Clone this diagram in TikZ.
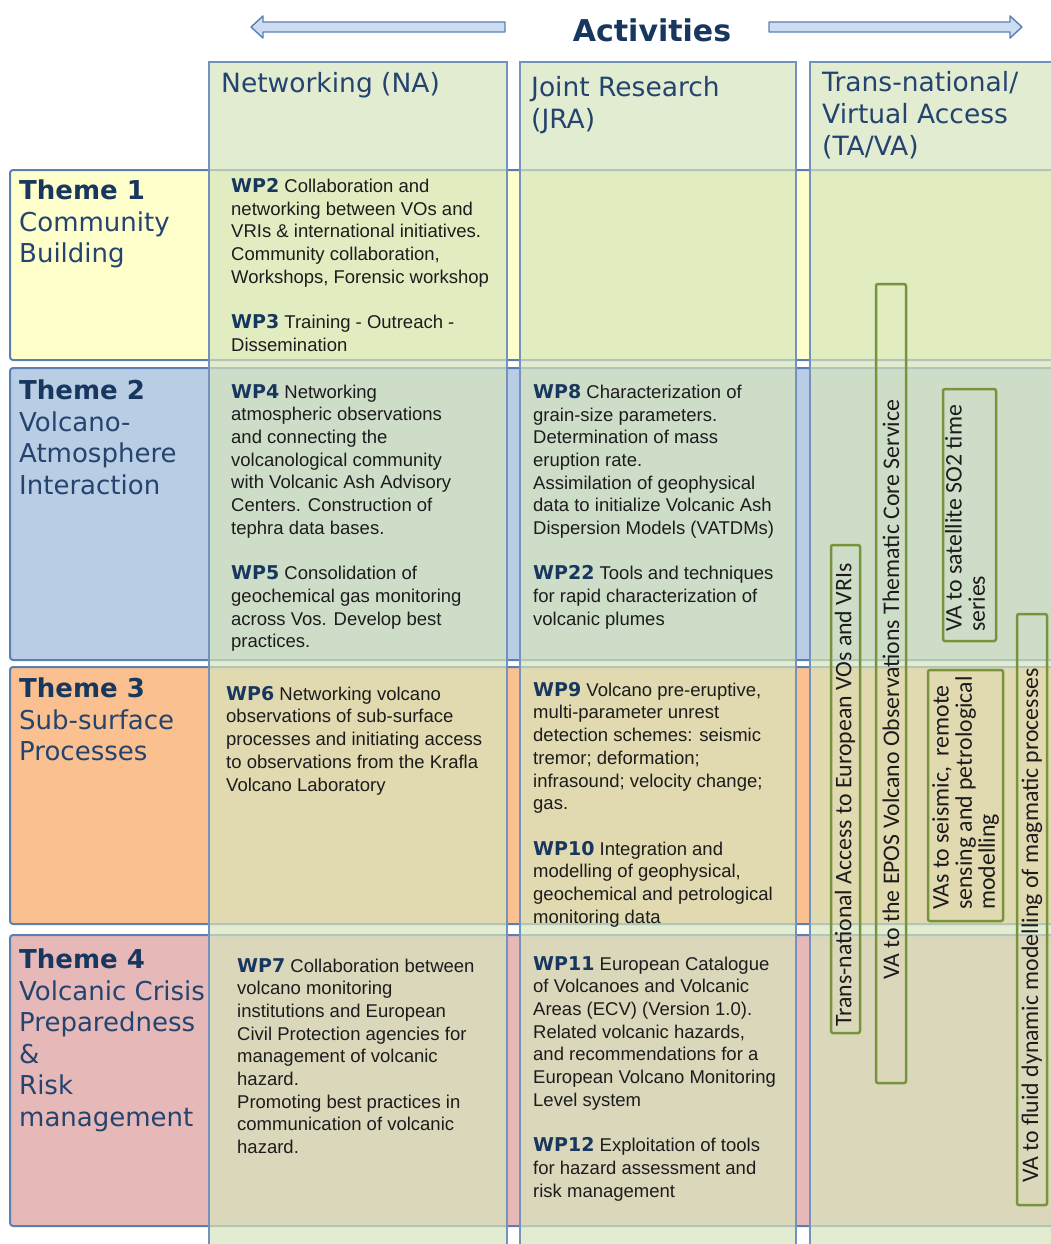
\documentclass[tikz,border=0pt]{standalone}
\usepackage{fontspec}
\setmainfont{Liberation Sans}
\newfontfamily\dvs{DejaVu Sans}
\newfontfamily\carl{Carlito}
\definecolor{tone}{HTML}{FFFFCC}
\definecolor{ttwo}{HTML}{B9CDE5}
\definecolor{tthree}{HTML}{FAC090}
\definecolor{tfour}{HTML}{E6B9B8}
\definecolor{colfill}{HTML}{D7E4BD}
\definecolor{bordblue}{HTML}{5A7FB2}
\definecolor{navy}{HTML}{17375E}
\definecolor{slate}{HTML}{24446F}
\definecolor{bodytext}{HTML}{1C1C1C}
\definecolor{gline}{HTML}{77933C}
\definecolor{arrfill}{HTML}{CCDCF1}
\newcommand{\wpl}[1]{{\dvs\bfseries\fontsize{19}{22.7}\selectfont\color{navy}#1}}
\newcommand{\thl}[1]{{\bfseries\color{navy}#1}}
\begin{document}
\begin{tikzpicture}[x=1pt,y=-1pt,
  themebox/.style={draw=bordblue, line width=2pt, rounded corners=3pt},
  colbox/.style={draw=bordblue!85, line width=1.8pt, fill=colfill, fill opacity=0.7},
  gbox/.style={draw=gline, line width=2.5pt, rounded corners=2pt},
  hdr/.style={anchor=north west, inner sep=0pt, align=left, text=slate, font=\dvs\fontsize{26.5}{32}\selectfont},
  thm/.style={anchor=north west, inner sep=0pt, align=left, text=slate, font=\dvs\fontsize{26}{31.5}\selectfont},
  wp/.style={anchor=north west, inner sep=0pt, align=left, text=bodytext, font=\fontsize{18.5}{22.7}\selectfont},
  vtext/.style={rotate=90, inner sep=0pt, align=left, text=bodytext, font=\carl\fontsize{23.8}{23.2}\selectfont},
  arrshape/.style={draw=bordblue, line width=1.4pt, fill=arrfill, line join=round}]
\useasboundingbox (0,0) rectangle (1051,1244);
\clip (0,0) rectangle (1051,1244);
\fill[white] (0,0) rectangle (1051,1244);

% top arrows and title
\draw[arrshape] (251,27) -- (263,16) -- (263,22) -- (505,22) -- (505,32) -- (263,32) -- (263,38) -- cycle;
\draw[arrshape] (1022,27) -- (1010,16) -- (1010,22) -- (769,22) -- (769,32) -- (1010,32) -- (1010,38) -- cycle;
\node[text=navy, font=\dvs\bfseries\fontsize{30}{36}\selectfont] (act) at (652,30) {Activities};

% theme rows
\draw[themebox, fill=tone]   (10,170) rectangle (1080,360);
\draw[themebox, fill=ttwo]   (10,368) rectangle (1080,660);
\draw[themebox, fill=tthree] (10,667) rectangle (1080,924);
\draw[themebox, fill=tfour]  (10,935) rectangle (1080,1226);

% activity columns
\draw[colbox] (209,62) rectangle (507,1270);
\draw[colbox] (520,62) rectangle (796,1270);
\draw[colbox] (810,62) rectangle (1080,1270);

% column headers
\node[hdr] (hna) at (221,72) {Networking (NA)};
\node[hdr] (hjra) at (531,76) {Joint Research\\(JRA)};
\node[hdr] (hta) at (822,71) {Trans-national/\\Virtual Access\\(TA/VA)};

% theme labels
\node[thm] (th1) at (19,180) {\thl{Theme 1}\\Community\\Building};
\node[thm] (th2) at (19,380) {\thl{Theme 2}\\Volcano-\\Atmosphere\\Interaction};
\node[thm] (th3) at (19,678) {\thl{Theme 3}\\Sub-surface\\Processes};
\node[thm] (th4) at (19,949) {\thl{Theme 4}\\Volcanic Crisis\\Preparedness\\\&\\Risk\\management};

% NA texts
\node[wp] (wp2) at (231,178) {\wpl{WP2} Collaboration and\\networking between VOs and\\VRIs \& international initiatives.\\Community collaboration,\\Workshops, Forensic workshop\\[22.7pt]\wpl{WP3} Training - Outreach -\\Dissemination};
\node[wp] (wp4) at (231,384) {\wpl{WP4} Networking\\atmospheric observations\\and connecting the\\volcanological community\\with Volcanic Ash Advisory\\Centers. Construction of\\tephra data bases.\\[22.7pt]\wpl{WP5} Consolidation of\\geochemical gas monitoring\\across Vos. Develop best\\practices.};
\node[wp] (wp6) at (226,686) {\wpl{WP6} Networking volcano\\observations of sub-surface\\processes and initiating access\\to observations from the Krafla\\Volcano Laboratory};
\node[wp] (wp7) at (237,958) {\wpl{WP7} Collaboration between\\volcano monitoring\\institutions and European\\Civil Protection agencies for\\management of volcanic\\hazard.\\Promoting best practices in\\communication of volcanic\\hazard.};

% JRA texts
\node[wp] (wp8) at (533,384) {\wpl{WP8} Characterization of\\grain-size parameters.\\Determination of mass\\eruption rate.\\Assimilation of geophysical\\data to initialize Volcanic Ash\\Dispersion Models (VATDMs)\\[22.7pt]\wpl{WP22} Tools and techniques\\for rapid characterization of\\volcanic plumes};
\node[wp] (wp9) at (533,682) {\wpl{WP9} Volcano pre-eruptive,\\multi-parameter unrest\\detection schemes: seismic\\tremor; deformation;\\infrasound; velocity change;\\gas.\\[22.7pt]\wpl{WP10} Integration and\\modelling of geophysical,\\geochemical and petrological\\monitoring data};
\node[wp] (wp11) at (533,956) {\wpl{WP11} European Catalogue\\of Volcanoes and Volcanic\\Areas (ECV) (Version 1.0).\\Related volcanic hazards,\\and recommendations for a\\European Volcano Monitoring\\Level system\\[22.7pt]\wpl{WP12} Exploitation of tools\\for hazard assessment and\\risk management};

% TA/VA boxes
\draw[gbox] (831,545) rectangle (860,1033);
\draw[gbox] (876,284) rectangle (906,1083);
\draw[gbox] (943,389) rectangle (996,641);
\draw[gbox] (928,670) rectangle (1003,921);
\draw[gbox] (1017,614) rectangle (1047,1205);
\node[vtext, anchor=west] (va1) at (845,1027) {Trans-national Access to European VOs and VRIs};
\node[vtext, anchor=west] (va2) at (891,980) {VA to the EPOS Volcano Observations Thematic Core Service};
\node[vtext, anchor=north west] (va3) at (945,632) {VA to satellite SO2 time\\series};
\node[vtext, anchor=north west] (va4) at (932,910) {VAs to seismic,~ remote\\sensing and petrological\\modelling};
\node[vtext, anchor=west] (va5) at (1032,1183) {VA to fluid dynamic modelling of magmatic processes};
\end{tikzpicture}
\end{document}
